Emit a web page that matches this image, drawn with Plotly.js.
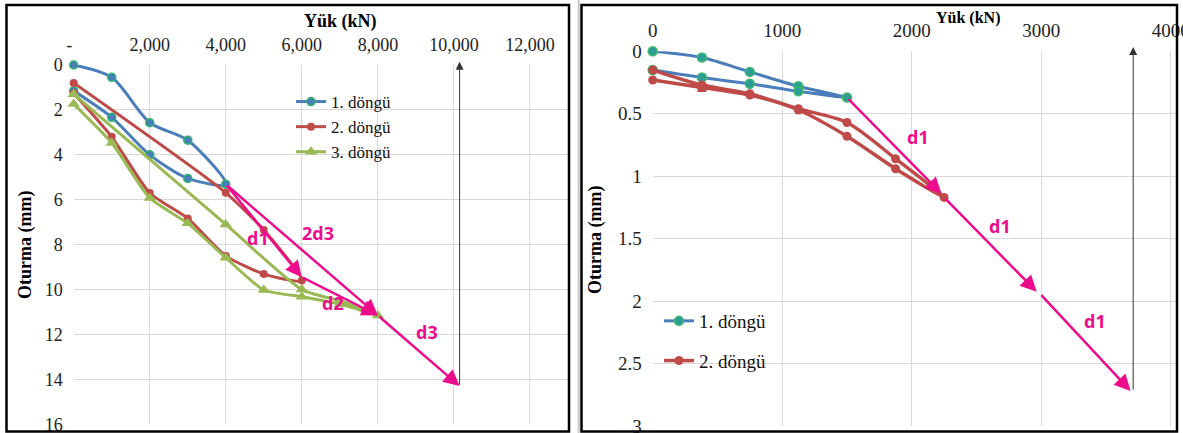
<!DOCTYPE html>
<html>
<head>
<meta charset="utf-8">
<script src="https://cdn.plot.ly/plotly-3.0.1.min.js"></script>
<style>html,body{margin:0;padding:0;background:#fff;}#chart{width:1183px;height:433px;}</style>
</head>
<body>
<div id="chart"></div>
<script>
// ---------- DATA ----------
// Left panel: load (kN) vs settlement (mm)
const leftCycle1X = [0, 1000, 2000, 3000, 4000, 3000, 2000, 1000, 0];
const leftCycle1Y = [0, 0.55, 2.57, 3.35, 5.31, 5.05, 4.0, 2.33, 1.15];
const leftCycle2X = [0, 4000, 5000, 6000, 5000, 4000, 3000, 2000, 1000, 0];
const leftCycle2Y = [0.8, 5.69, 7.35, 9.6, 9.31, 8.5, 6.83, 5.7, 3.2, 1.26];
const leftCycle3X = [0, 4000, 6000, 7000, 8000, 7000, 6000, 5000, 4000, 3000, 2000, 1000, 0];
const leftCycle3Y = [1.3, 7.1, 10.0, 10.5, 11.15, 10.65, 10.32, 10.02, 8.58, 7.05, 5.92, 3.47, 1.74];
const leftTickVals = [0, 2000, 4000, 6000, 8000, 10000, 12000];
const leftTickText = ['-\u00a0\u00a0', '2,000', '4,000', '6,000', '8,000', '10,000', '12,000'];
const leftYTicks = [0, 2, 4, 6, 8, 10, 12, 14, 16];
// magenta arrows (tail -> head)
const leftArrowFromX = [4000, 6000, 4000, 8000];
const leftArrowFromY = [5.31, 9.45, 5.31, 11.15];
const leftArrowToX = [6000, 8000, 8000, 10150];
const leftArrowToY = [9.45, 11.15, 11.15, 14.3];
const leftLabelText = ['d1', 'd2', '2d3', 'd3'];
const leftLabelX = [4850, 6810, 6430, 9280];
const leftLabelY = [7.72, 10.61, 7.5, 11.9];
const leftVertX = 10150, leftVertFromY = 14.3, leftVertToY = -0.15;

// Right panel
const rightCycle1X = [0, 380, 750, 1125, 1500, 1125, 750, 380, 0];
const rightCycle1Y = [0, 0.05, 0.165, 0.28, 0.37, 0.32, 0.26, 0.21, 0.15];
const rightCycle2X = [0, 380, 750, 1125, 1500, 1875, 2250, 1875, 1500, 1125, 750, 380, 0];
const rightCycle2Y = [0.15, 0.27, 0.34, 0.46, 0.57, 0.86, 1.17, 0.94, 0.68, 0.47, 0.35, 0.29, 0.23];
const rightTickVals = [0, 1000, 2000, 3000, 4000];
const rightTickText = ['0', '1000', '2000', '3000', '4000'];
const rightYTickVals = [0, 0.5, 1, 1.5, 2, 2.5, 3];
const rightYTickText = ['0', '0.5', '1', '1.5', '2', '2.5', '3'];
const rightArrowFromX = [1500, 2250, 2990];
const rightArrowFromY = [0.37, 1.17, 1.94];
const rightArrowToX = [2230, 2965, 3690];
const rightArrowToY = [1.14, 1.925, 2.72];
const rightLabelText = ['d1', 'd1', 'd1'];
const rightLabelX = [2051, 2685, 3414];
const rightLabelY = [0.683, 1.40, 2.157];
const rightVertX = 3710, rightVertFromY = 2.72, rightVertToY = -0.035;

const seriesNames = ['1. döngü', '2. döngü', '3. döngü'];

// ---------- LAYOUT HELPERS ----------
const W = 1183, H = 433;
const px = x => x / W;
const py = y => 1 - y / H;

const BLUE = '#4A7EBB', RED = '#BE4B48', GREEN = '#98B954', MAG = '#EC0C8C';
const SERIF = 'Liberation Serif';
const SANS = 'Open Sans';

const traces = [
  {x: leftCycle1X, y: leftCycle1Y, xaxis: 'x', yaxis: 'y', name: seriesNames[0], mode: 'lines+markers', cliponaxis: false,
   line: {color: BLUE, width: 3, shape: 'spline', smoothing: 0.8},
   marker: {symbol: 'circle', size: 8, color: BLUE, line: {color: '#2DB46E', width: 1.5}}, legend: 'legend'},
  {x: leftCycle2X, y: leftCycle2Y, xaxis: 'x', yaxis: 'y', name: seriesNames[1], mode: 'lines+markers', cliponaxis: false,
   line: {color: RED, width: 3, shape: 'spline', smoothing: 0.6},
   marker: {symbol: 'circle', size: 8, color: RED}, legend: 'legend'},
  {x: leftCycle3X, y: leftCycle3Y, xaxis: 'x', yaxis: 'y', name: seriesNames[2], mode: 'lines+markers', cliponaxis: false,
   line: {color: GREEN, width: 3, shape: 'spline', smoothing: 0.6},
   marker: {symbol: 'triangle-up', size: 11, color: GREEN}, legend: 'legend'},
  {x: rightCycle1X, y: rightCycle1Y, xaxis: 'x2', yaxis: 'y2', name: seriesNames[0], mode: 'lines+markers', cliponaxis: false,
   line: {color: BLUE, width: 3, shape: 'spline', smoothing: 0.8},
   marker: {symbol: 'circle', size: 9, color: '#2F9C95', line: {color: '#3DBA6E', width: 1.5}},
   legend: 'legend2', legendgroup: 'a'},
  {x: rightCycle2X, y: rightCycle2Y, xaxis: 'x2', yaxis: 'y2', name: seriesNames[1], mode: 'lines+markers', cliponaxis: false,
   line: {color: RED, width: 3.5, shape: 'spline', smoothing: 0.8},
   marker: {symbol: rightCycle2X.map((v, i) => i === rightCycle2X.length - 2 ? 'square' : 'circle'), size: 9, color: RED},
   legend: 'legend2', legendgroup: 'b'}
];

const annotations = [];
function arrow(xr, yr, fx, fy, tx, ty, color, width, head, size) {
  annotations.push({xref: xr, yref: yr, axref: xr, ayref: yr, x: tx, y: ty, ax: fx, ay: fy,
    text: '', showarrow: true, arrowhead: head, arrowsize: size, arrowwidth: width, arrowcolor: color, standoff: 0, startstandoff: 0});
}
leftArrowFromX.forEach((v, i) => arrow('x', 'y', v, leftArrowFromY[i], leftArrowToX[i], leftArrowToY[i], MAG, 2.5, 2, 1.3));
rightArrowFromX.forEach((v, i) => arrow('x2', 'y2', v, rightArrowFromY[i], rightArrowToX[i], rightArrowToY[i], MAG, 2.5, 2, 1.3));
arrow('x', 'y', leftVertX, leftVertFromY, leftVertX, leftVertToY, '#333', 1, 2, 1.6);
arrow('x2', 'y2', rightVertX, rightVertFromY, rightVertX, rightVertToY, '#333', 1, 2, 1.6);

leftLabelText.forEach((t, i) => annotations.push({xref: 'x', yref: 'y', x: leftLabelX[i], y: leftLabelY[i], text: '<b>' + t + '</b>',
  showarrow: false, xanchor: 'center', yanchor: 'middle', font: {family: SANS, size: 18, color: MAG}}));
rightLabelText.forEach((t, i) => annotations.push({xref: 'x2', yref: 'y2', x: rightLabelX[i], y: rightLabelY[i], text: '<b>' + t + '</b>',
  showarrow: false, xanchor: 'center', yanchor: 'middle', font: {family: SANS, size: 18, color: MAG}}));

// axis titles
function title(x, y, text, size, angle) {
  annotations.push({xref: 'paper', yref: 'paper', x: px(x), y: py(y), text: '<b>' + text + '</b>', showarrow: false,
    xanchor: 'center', yanchor: 'middle', textangle: angle, font: {family: SERIF, size: size, color: '#000'}});
}
title(340, 21.5, 'Yük (kN)', 18, 0);
title(25, 245, 'Oturma (mm)', 18, -90);
title(968, 18, 'Yük (kN)', 16, 0);
title(596, 240, 'Oturma (mm)', 18, -90);

const tickFont = {family: SERIF, size: 18, color: '#222'};
const tickFont2 = {family: SERIF, size: 19, color: '#222'};
const axisCommon = {showgrid: true, gridcolor: '#D9D9D9', gridwidth: 1, zeroline: false, showline: false, ticks: '',
  fixedrange: true, ticklabeloverflow: 'allow'};

const layout = {
  width: W, height: H, margin: {l: 0, r: 0, t: 0, b: 0},
  paper_bgcolor: '#fff', plot_bgcolor: '#fff', hovermode: false,
  xaxis: Object.assign({}, axisCommon, {domain: [px(73.7), px(568)], range: [0, 13000], side: 'top', anchor: 'y',
    tickmode: 'array', tickvals: leftTickVals, ticktext: leftTickText, tickfont: tickFont, ticklabelstandoff: 9}),
  yaxis: Object.assign({}, axisCommon, {domain: [py(424.3), py(65)], range: [16, 0], anchor: 'x',
    tickmode: 'array', tickvals: leftYTicks, tickfont: tickFont, ticklabelstandoff: 10}),
  xaxis2: Object.assign({}, axisCommon, {domain: [px(652.7), px(1176.7)], range: [0, 4046], side: 'top', anchor: 'y2',
    tickmode: 'array', tickvals: rightTickVals, ticktext: rightTickText, tickfont: tickFont2, ticklabelstandoff: 10}),
  yaxis2: Object.assign({}, axisCommon, {domain: [py(426), py(51.3)], range: [3, 0], anchor: 'x2',
    tickmode: 'array', tickvals: rightYTickVals, ticktext: rightYTickText, tickfont: tickFont2, ticklabelstandoff: 10}),
  legend: {x: px(291), y: py(84), xanchor: 'left', yanchor: 'top', bgcolor: 'rgba(0,0,0,0)',
    font: {family: SERIF, size: 17, color: '#111'}, tracegroupgap: 0, itemwidth: 30},
  legend2: {x: px(659), y: py(302), xanchor: 'left', yanchor: 'top', bgcolor: 'rgba(0,0,0,0)',
    font: {family: SERIF, size: 19, color: '#111'}, tracegroupgap: 12, itemwidth: 30},
  annotations: annotations,
  shapes: [
    {type: 'rect', xref: 'paper', yref: 'paper', x0: px(6.5), x1: px(569), y0: py(431.5), y1: py(5), line: {color: '#000', width: 2.5}},
    {type: 'line', xref: 'paper', yref: 'paper', x0: px(578.7), x1: px(578.7), y0: 0, y1: 1, line: {color: '#C8C8C8', width: 2}},
    {type: 'rect', xref: 'paper', yref: 'paper', x0: px(581.5), x1: px(1177), y0: py(431.5), y1: py(5), line: {color: '#000', width: 2.5}}
  ]
};

Plotly.newPlot('chart', traces, layout, {staticPlot: true, displayModeBar: false});
</script>
</body>
</html>
